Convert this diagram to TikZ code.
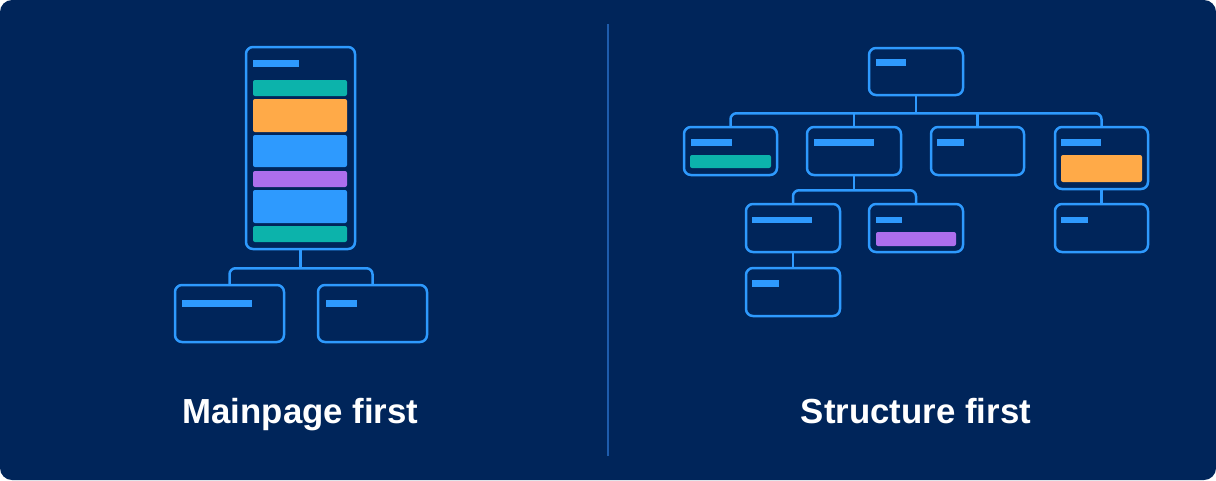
\documentclass[tikz,border=0pt]{standalone}
\usepackage{fontspec}
\setmainfont{Liberation Sans}
\usetikzlibrary{calc}
\definecolor{bgc}{RGB}{0,37,90}
\definecolor{strk}{RGB}{46,154,254}
\definecolor{tealc}{RGB}{12,179,171}
\definecolor{orangec}{RGB}{255,170,72}
\definecolor{purplec}{RGB}{172,110,237}
\definecolor{divc}{RGB}{30,92,172}
\tikzset{
  box/.style={draw=strk, line width=2.5pt, rounded corners=7pt, inner sep=0pt, fill=bgc},
  conn/.style={draw=strk, line width=2.5pt, rounded corners=6pt},
  bar/.style={fill=strk},
  blk/.style={rounded corners=2pt},
  lbl/.style={text=white, font=\fontsize{34.8}{40}\selectfont\bfseries, anchor=base, inner sep=0pt}
}
\newcommand{\bx}[5]{\node[box, minimum width=#4-#2, minimum height=#5-#3] (#1) at ({(#2+#4)/2},{(#3+#5)/2}) {};}
\begin{document}
\begin{tikzpicture}[x=1pt,y=-1pt]
\useasboundingbox (0,0) rectangle (1216,480);
\fill[bgc, rounded corners=12pt] (0,0) rectangle (1216,480);
\draw[divc, line width=1.5pt] (608,24) -- (608,456);

% ---------- left: mainpage first ----------
\bx{phone}{246}{47}{355}{249}
\bx{lc1}{175}{285}{284}{342}
\bx{lc2}{318}{285}{427}{342}
\coordinate (jL) at ($(phone.south)+(0,18)$);
\draw[conn] (lc1.north) |- (jL) -| (lc2.north);
\draw[conn, rounded corners=0pt] (phone.south) -- (jL);

\fill[bar] (253,60) rectangle (299,67);
\fill[tealc, blk] (253,80) rectangle (347,96);
\fill[orangec, blk] (253,99) rectangle (347,132);
\fill[strk, blk] (253,135) rectangle (347,167);
\fill[purplec, blk] (253,171) rectangle (347,187);
\fill[strk, blk] (253,190) rectangle (347,223);
\fill[tealc, blk] (253,226) rectangle (347,242);
\fill[bar] (182,300) rectangle (252,307);
\fill[bar] (326,300) rectangle (357,307);

\node[lbl] (t1) at (300.5,423) {Mainpage first};

% ---------- right: structure first ----------
\bx{root}{869}{48}{963}{95}
\bx{c1}{684}{127}{777}{175}
\bx{c2}{807}{127}{901}{175}
\bx{c3}{931}{127}{1024}{175}
\bx{c4}{1055}{127}{1148}{189}
\bx{g1}{746}{204}{840}{252}
\bx{g2}{869}{204}{963}{252}
\bx{g4}{1055}{204}{1148}{252}
\bx{h1}{746}{268}{840}{316}

\coordinate (rj) at ($(root.south)+(0,17)$);
\coordinate (sj) at ($(c2.south)+(0,14)$);
\draw[conn] (c1.north) |- (rj) -| (c4.north);
\draw[conn, rounded corners=0pt] (root.south) -- (rj);
\draw[conn, rounded corners=0pt] (c2.north) -- (c2.north |- rj);
\draw[conn, rounded corners=0pt] (c3.north) -- (c3.north |- rj);
\draw[conn] (g1.north) |- (sj) -| (g2.north);
\draw[conn, rounded corners=0pt] (c2.south) -- (sj);
\draw[conn, rounded corners=0pt] (c4.south) -- (g4.north);
\draw[conn, rounded corners=0pt] (g1.south) -- (h1.north);

\fill[bar] (876,59) rectangle (906,66);
\fill[bar] (691,139) rectangle (732,146);
\fill[tealc, blk] (690,155) rectangle (771,168);
\fill[bar] (814,139) rectangle (874,146);
\fill[bar] (937,139) rectangle (964,146);
\fill[bar] (1061,139) rectangle (1101,146);
\fill[orangec, blk] (1061,155) rectangle (1142,182);
\fill[bar] (752,217) rectangle (812,223);
\fill[bar] (876,217) rectangle (902,223);
\fill[purplec, blk] (876,232) rectangle (956,246);
\fill[bar] (1061,217) rectangle (1088,223);
\fill[bar] (752,280) rectangle (779,287);

\node[lbl] (t2) at (916,423) {Structure first};
\end{tikzpicture}
\end{document}
